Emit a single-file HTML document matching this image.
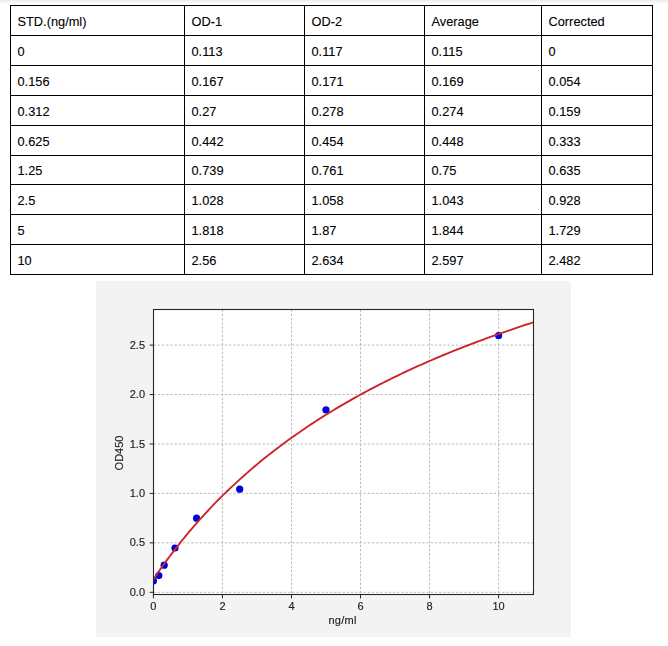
<!DOCTYPE html>
<html><head><meta charset="utf-8">
<style>
html,body{margin:0;padding:0;background:#fff;}
body{width:668px;height:646px;position:relative;overflow:hidden;font-family:"Liberation Sans",sans-serif;}
.topband{position:absolute;left:0;top:0;width:668px;height:4px;background:linear-gradient(#ececec,#fff);}
.vl{position:absolute;width:1px;background:#000;}
.hl{position:absolute;height:1px;background:#000;}
.t{position:absolute;font-size:12.8px;line-height:normal;color:#000;white-space:nowrap;-webkit-text-stroke:0.1px #000;}
.ct{font-family:"Liberation Sans",sans-serif;font-size:11px;fill:#222;stroke:#222;stroke-width:0.15px;}
svg{position:absolute;left:0;top:0;will-change:transform;}
</style></head><body>
<div class="topband"></div>
<div class="vl" style="left:10px;top:5px;height:270px"></div>
<div class="vl" style="left:184px;top:5px;height:270px"></div>
<div class="vl" style="left:304px;top:5px;height:270px"></div>
<div class="vl" style="left:424px;top:5px;height:270px"></div>
<div class="vl" style="left:541px;top:5px;height:270px"></div>
<div class="vl" style="left:652px;top:5px;height:270px"></div>
<div class="hl" style="left:10px;top:5px;width:643px"></div>
<div class="hl" style="left:10px;top:35px;width:643px"></div>
<div class="hl" style="left:10px;top:65px;width:643px"></div>
<div class="hl" style="left:10px;top:95px;width:643px"></div>
<div class="hl" style="left:10px;top:125px;width:643px"></div>
<div class="hl" style="left:10px;top:155px;width:643px"></div>
<div class="hl" style="left:10px;top:184px;width:643px"></div>
<div class="hl" style="left:10px;top:214px;width:643px"></div>
<div class="hl" style="left:10px;top:244px;width:643px"></div>
<div class="hl" style="left:10px;top:274px;width:643px"></div>
<span class="t" style="left:17.5px;top:14.32px">STD.(ng/ml)</span>
<span class="t" style="left:191.5px;top:14.32px">OD-1</span>
<span class="t" style="left:311.5px;top:14.32px">OD-2</span>
<span class="t" style="left:431.5px;top:14.32px">Average</span>
<span class="t" style="left:548.5px;top:14.32px">Corrected</span>
<span class="t" style="left:17.5px;top:44.12px">0</span>
<span class="t" style="left:191.5px;top:44.12px">0.113</span>
<span class="t" style="left:311.5px;top:44.12px">0.117</span>
<span class="t" style="left:431.5px;top:44.12px">0.115</span>
<span class="t" style="left:548.5px;top:44.12px">0</span>
<span class="t" style="left:17.5px;top:73.92px">0.156</span>
<span class="t" style="left:191.5px;top:73.92px">0.167</span>
<span class="t" style="left:311.5px;top:73.92px">0.171</span>
<span class="t" style="left:431.5px;top:73.92px">0.169</span>
<span class="t" style="left:548.5px;top:73.92px">0.054</span>
<span class="t" style="left:17.5px;top:103.72px">0.312</span>
<span class="t" style="left:191.5px;top:103.72px">0.27</span>
<span class="t" style="left:311.5px;top:103.72px">0.278</span>
<span class="t" style="left:431.5px;top:103.72px">0.274</span>
<span class="t" style="left:548.5px;top:103.72px">0.159</span>
<span class="t" style="left:17.5px;top:133.52px">0.625</span>
<span class="t" style="left:191.5px;top:133.52px">0.442</span>
<span class="t" style="left:311.5px;top:133.52px">0.454</span>
<span class="t" style="left:431.5px;top:133.52px">0.448</span>
<span class="t" style="left:548.5px;top:133.52px">0.333</span>
<span class="t" style="left:17.5px;top:163.32px">1.25</span>
<span class="t" style="left:191.5px;top:163.32px">0.739</span>
<span class="t" style="left:311.5px;top:163.32px">0.761</span>
<span class="t" style="left:431.5px;top:163.32px">0.75</span>
<span class="t" style="left:548.5px;top:163.32px">0.635</span>
<span class="t" style="left:17.5px;top:193.12px">2.5</span>
<span class="t" style="left:191.5px;top:193.12px">1.028</span>
<span class="t" style="left:311.5px;top:193.12px">1.058</span>
<span class="t" style="left:431.5px;top:193.12px">1.043</span>
<span class="t" style="left:548.5px;top:193.12px">0.928</span>
<span class="t" style="left:17.5px;top:222.92px">5</span>
<span class="t" style="left:191.5px;top:222.92px">1.818</span>
<span class="t" style="left:311.5px;top:222.92px">1.87</span>
<span class="t" style="left:431.5px;top:222.92px">1.844</span>
<span class="t" style="left:548.5px;top:222.92px">1.729</span>
<span class="t" style="left:17.5px;top:252.72px">10</span>
<span class="t" style="left:191.5px;top:252.72px">2.56</span>
<span class="t" style="left:311.5px;top:252.72px">2.634</span>
<span class="t" style="left:431.5px;top:252.72px">2.597</span>
<span class="t" style="left:548.5px;top:252.72px">2.482</span>
<svg width="668" height="646" viewBox="0 0 668 646">
<rect x="96" y="281" width="475" height="356" fill="#f3f3f3"/>
<defs><clipPath id="ax"><rect x="153.5" y="309.5" width="380" height="285"/></clipPath></defs>
<rect x="153.5" y="309.5" width="380" height="285" fill="#fff"/>
<g clip-path="url(#ax)">
<line x1="153.40" y1="309.5" x2="153.40" y2="594.5" stroke="#b0b0b0" stroke-width="0.85" stroke-dasharray="2.4 1.8"/>
<line x1="222.44" y1="309.5" x2="222.44" y2="594.5" stroke="#b0b0b0" stroke-width="0.85" stroke-dasharray="2.4 1.8"/>
<line x1="291.48" y1="309.5" x2="291.48" y2="594.5" stroke="#b0b0b0" stroke-width="0.85" stroke-dasharray="2.4 1.8"/>
<line x1="360.52" y1="309.5" x2="360.52" y2="594.5" stroke="#b0b0b0" stroke-width="0.85" stroke-dasharray="2.4 1.8"/>
<line x1="429.56" y1="309.5" x2="429.56" y2="594.5" stroke="#b0b0b0" stroke-width="0.85" stroke-dasharray="2.4 1.8"/>
<line x1="498.60" y1="309.5" x2="498.60" y2="594.5" stroke="#b0b0b0" stroke-width="0.85" stroke-dasharray="2.4 1.8"/>
<line x1="153.5" y1="592.30" x2="533.5" y2="592.30" stroke="#b0b0b0" stroke-width="0.85" stroke-dasharray="2.4 1.8"/>
<line x1="153.5" y1="542.86" x2="533.5" y2="542.86" stroke="#b0b0b0" stroke-width="0.85" stroke-dasharray="2.4 1.8"/>
<line x1="153.5" y1="493.42" x2="533.5" y2="493.42" stroke="#b0b0b0" stroke-width="0.85" stroke-dasharray="2.4 1.8"/>
<line x1="153.5" y1="443.98" x2="533.5" y2="443.98" stroke="#b0b0b0" stroke-width="0.85" stroke-dasharray="2.4 1.8"/>
<line x1="153.5" y1="394.54" x2="533.5" y2="394.54" stroke="#b0b0b0" stroke-width="0.85" stroke-dasharray="2.4 1.8"/>
<line x1="153.5" y1="345.10" x2="533.5" y2="345.10" stroke="#b0b0b0" stroke-width="0.85" stroke-dasharray="2.4 1.8"/>
<circle cx="153.40" cy="580.93" r="3.6" fill="#0000dd"/>
<circle cx="158.79" cy="575.59" r="3.6" fill="#0000dd"/>
<circle cx="164.17" cy="565.21" r="3.6" fill="#0000dd"/>
<circle cx="174.98" cy="548.00" r="3.6" fill="#0000dd"/>
<circle cx="196.55" cy="518.14" r="3.6" fill="#0000dd"/>
<circle cx="239.70" cy="489.17" r="3.6" fill="#0000dd"/>
<circle cx="326.00" cy="409.97" r="3.6" fill="#0000dd"/>
<circle cx="498.60" cy="335.51" r="3.6" fill="#0000dd"/>
<polyline points="153.40,579.58 153.99,578.61 154.57,577.69 155.16,576.80 155.74,575.92 156.33,575.05 156.91,574.18 157.50,573.33 158.08,572.47 158.67,571.63 159.25,570.79 159.84,569.95 160.42,569.12 161.01,568.29 161.59,567.46 162.18,566.64 162.76,565.82 163.35,565.01 163.93,564.19 164.52,563.38 165.10,562.58 165.69,561.78 166.27,560.98 166.86,560.18 167.44,559.39 168.03,558.59 168.61,557.81 169.20,557.02 169.78,556.24 170.37,555.46 170.95,554.68 171.54,553.91 172.12,553.14 172.71,552.37 173.29,551.60 173.88,550.84 174.46,550.08 175.05,549.32 175.63,548.57 176.22,547.81 176.80,547.06 177.39,546.32 177.97,545.57 178.56,544.83 179.14,544.09 179.73,543.35 180.31,542.62 180.90,541.89 181.48,541.16 182.07,540.43 182.65,539.71 183.24,538.99 183.82,538.27 184.41,537.55 184.99,536.84 185.58,536.13 186.16,535.42 186.75,534.71 187.33,534.01 187.92,533.31 188.61,532.48 190.78,529.91 192.94,527.38 195.11,524.88 197.28,522.40 199.44,519.96 201.61,517.55 203.78,515.17 205.94,512.81 208.11,510.49 210.28,508.19 212.44,505.92 214.61,503.68 216.78,501.46 218.94,499.26 221.11,497.10 223.28,494.95 225.44,492.83 227.61,490.74 229.78,488.66 231.94,486.61 234.11,484.59 236.28,482.58 238.45,480.59 240.61,478.63 242.78,476.69 244.95,474.77 247.11,472.86 249.28,470.98 251.45,469.12 253.61,467.27 255.78,465.45 257.95,463.64 260.11,461.85 262.28,460.08 264.45,458.32 266.61,456.59 268.78,454.87 270.95,453.16 273.11,451.48 275.28,449.80 277.45,448.15 279.61,446.51 281.78,444.89 283.95,443.28 286.11,441.68 288.28,440.10 290.45,438.54 292.61,436.99 294.78,435.45 296.95,433.93 299.11,432.42 301.28,430.92 303.45,429.44 305.61,427.97 307.78,426.52 309.95,425.07 312.11,423.64 314.28,422.22 316.45,420.82 318.61,419.42 320.78,418.04 322.95,416.67 325.11,415.31 327.28,413.96 329.45,412.62 331.61,411.30 333.78,409.98 335.95,408.68 338.11,407.39 340.28,406.11 342.45,404.83 344.61,403.57 346.78,402.32 348.95,401.08 351.11,399.85 353.28,398.62 355.45,397.41 357.62,396.21 359.78,395.02 361.95,393.83 364.12,392.66 366.28,391.49 368.45,390.33 370.62,389.19 372.78,388.05 374.95,386.92 377.12,385.79 379.28,384.68 381.45,383.57 383.62,382.48 385.78,381.39 387.95,380.31 390.12,379.23 392.28,378.17 394.45,377.11 396.62,376.06 398.78,375.02 400.95,373.99 403.12,372.96 405.28,371.94 407.45,370.93 409.62,369.92 411.78,368.92 413.95,367.93 416.12,366.95 418.28,365.97 420.45,365.00 422.62,364.04 424.78,363.08 426.95,362.13 429.12,361.19 431.28,360.25 433.45,359.32 435.62,358.39 437.78,357.47 439.95,356.56 442.12,355.65 444.28,354.75 446.45,353.86 448.62,352.97 450.78,352.09 452.95,351.21 455.12,350.34 457.28,349.48 459.45,348.62 461.62,347.76 463.78,346.92 465.95,346.07 468.12,345.24 470.28,344.40 472.45,343.58 474.62,342.76 476.79,341.94 478.95,341.13 481.12,340.32 483.29,339.52 485.45,338.72 487.62,337.93 489.79,337.15 491.95,336.37 494.12,335.59 496.29,334.82 498.45,334.05 500.62,333.29 502.79,332.53 504.95,331.78 507.12,331.03 509.29,330.29 511.45,329.55 513.62,328.81 515.79,328.08 517.95,327.36 520.12,326.63 522.29,325.92 524.45,325.20 526.62,324.49 528.79,323.79 530.95,323.09 533.12,322.39" fill="none" stroke="#cc2529" stroke-width="1.9"/>
</g>
<rect x="153.5" y="309.5" width="380" height="285" fill="none" stroke="#262626" stroke-width="1.1"/>
<line x1="153.40" y1="594.5" x2="153.40" y2="598.4" stroke="#262626" stroke-width="1"/>
<text x="153.40" y="609.5" text-anchor="middle" class="ct">0</text>
<line x1="222.44" y1="594.5" x2="222.44" y2="598.4" stroke="#262626" stroke-width="1"/>
<text x="222.44" y="609.5" text-anchor="middle" class="ct">2</text>
<line x1="291.48" y1="594.5" x2="291.48" y2="598.4" stroke="#262626" stroke-width="1"/>
<text x="291.48" y="609.5" text-anchor="middle" class="ct">4</text>
<line x1="360.52" y1="594.5" x2="360.52" y2="598.4" stroke="#262626" stroke-width="1"/>
<text x="360.52" y="609.5" text-anchor="middle" class="ct">6</text>
<line x1="429.56" y1="594.5" x2="429.56" y2="598.4" stroke="#262626" stroke-width="1"/>
<text x="429.56" y="609.5" text-anchor="middle" class="ct">8</text>
<line x1="498.60" y1="594.5" x2="498.60" y2="598.4" stroke="#262626" stroke-width="1"/>
<text x="498.60" y="609.5" text-anchor="middle" class="ct">10</text>
<line x1="149.7" y1="592.30" x2="153.5" y2="592.30" stroke="#262626" stroke-width="1"/>
<text x="145" y="595.90" text-anchor="end" class="ct">0.0</text>
<line x1="149.7" y1="542.86" x2="153.5" y2="542.86" stroke="#262626" stroke-width="1"/>
<text x="145" y="546.46" text-anchor="end" class="ct">0.5</text>
<line x1="149.7" y1="493.42" x2="153.5" y2="493.42" stroke="#262626" stroke-width="1"/>
<text x="145" y="497.02" text-anchor="end" class="ct">1.0</text>
<line x1="149.7" y1="443.98" x2="153.5" y2="443.98" stroke="#262626" stroke-width="1"/>
<text x="145" y="447.58" text-anchor="end" class="ct">1.5</text>
<line x1="149.7" y1="394.54" x2="153.5" y2="394.54" stroke="#262626" stroke-width="1"/>
<text x="145" y="398.14" text-anchor="end" class="ct">2.0</text>
<line x1="149.7" y1="345.10" x2="153.5" y2="345.10" stroke="#262626" stroke-width="1"/>
<text x="145" y="348.70" text-anchor="end" class="ct">2.5</text>
<text x="342.5" y="624.4" text-anchor="middle" class="ct" letter-spacing="0.25">ng/ml</text>
<text x="0" y="0" text-anchor="middle" class="ct" transform="translate(123.2,453) rotate(-90)">OD450</text>
</svg>
</body></html>
